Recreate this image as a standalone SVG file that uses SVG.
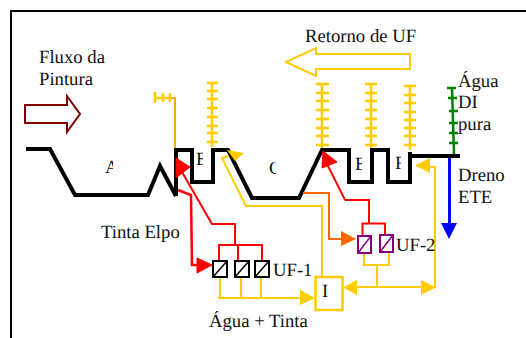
<svg xmlns="http://www.w3.org/2000/svg" width="526" height="338" viewBox="0 0 526 338">
<style>
text{font-family:"Liberation Serif",serif;font-size:18.7px;fill:#111;text-rendering:geometricPrecision}
.y{fill:none;stroke:#ffcc00;stroke-width:2}
.r{fill:none;stroke:#ff0000;stroke-width:2}
.k{fill:none;stroke:#000;stroke-width:4}
.rake{fill:none;stroke:#ffcc00;stroke-width:2.5}
.g{fill:none;stroke:#008000;stroke-width:2.5}
.m1{fill:#fff;stroke:#000;stroke-width:2}
.m2{fill:#fff;stroke:#800080;stroke-width:2}
</style>
<defs>
<clipPath id="ca"><rect x="100" y="155" width="13" height="22"/></clipPath>
<clipPath id="cb"><rect x="194" y="150" width="9" height="18"/></clipPath>
<clipPath id="cc"><rect x="266" y="158" width="10" height="22"/></clipPath>
<clipPath id="ce"><rect x="353" y="155" width="9" height="18"/></clipPath>
<clipPath id="cf"><rect x="394" y="155" width="7" height="18"/></clipPath>
<clipPath id="ci"><rect x="318" y="282" width="12" height="22"/></clipPath>
</defs>
<rect width="526" height="338" fill="#fff"/>
<path id="frame" d="M526 11H11V338" fill="none" stroke="#000" stroke-width="2"/>
<g id="connectors">
<path d="M26 149H50L75 195H148L160 166L176 196M176 196V150H192V182H213V150H228L252 198H299L322 150H349V182H372V150H388V182H410V152M410 156H460" class="k"/>
<path d="M155 98H175V148" fill="none" stroke="#ffa500" stroke-width="2"/>
<path d="M155 98H170M155 92V103M163 93V102M170 93V102" class="rake"/>
<path d="M212 82V147M207 83H218M207 91H218M207 99H218M207 108H218M207 117H218M207 126H218M207 133H218M207 142H218" class="rake"/>
<path d="M322 84V148M316 84H329M316 93H329M316 101H329M316 110H329M316 119H329M316 128H329M316 136H329M316 145H329" class="rake"/>
<path d="M371 84V148M365 84H377M365 93H377M365 101H377M365 110H377M365 119H377M365 128H377M365 136H377M365 145H377" class="rake"/>
<path d="M410 86V150M404 86H416M404 95H416M404 103H416M404 112H416M404 120H416M404 128H416M404 136H416M404 145H416" class="rake"/>
<path d="M452 88L454 154M447 88H456M448 98H457M449 111H458M449 123H458M449 133H458M449 143H458" class="g"/>
<path d="M449.500 158V224" stroke="#0000ff" stroke-width="3" fill="none"/>
<path d="M441 223H457L449 239Z" fill="#0000ff"/>
<path d="M229 156L222 158L246 206H322V278" class="y"/>
<path d="M227 150L244 153L235 161Z" fill="#ffcc00"/>
<path d="M178 190L191 195L192 265H199" fill="none" stroke="#ff0000" stroke-width="2.500"/>
<path d="M197 258V273L212 265Z" fill="#ff0000" stroke="#ff0000"/>
<path d="M182 172L212 224H235V245" class="r"/>
<path d="M176 158V178L190 167Z" fill="#ff0000" stroke="#ff0000"/>
<path d="M219 260V245H262V260M238 245V260" class="r"/>
<path d="M220 278V298M241 278V298M261 278V298" class="y"/>
<path d="M218 298H302" class="y"/>
<path d="M300 290V305L315 298Z" fill="#ffcc00"/>
<path d="M303 193H329V239H342" fill="none" stroke="#ff6600" stroke-width="2"/>
<path d="M341 231V246L356 239Z" fill="#ff6600"/>
<path d="M345 200L326 162" class="r"/>
<path d="M345 200H369V223" class="r"/>
<path d="M362.500 235V223.500H385V235" class="r"/>
<path d="M323 151L322 168L337 162Z" fill="#ff0000" stroke="#ff0000"/>
<path d="M364 253V265H389V253" class="y"/>
<path d="M377 265V287" class="y" stroke-width="1.500"/>
<path d="M350 287H435V167H425" class="y"/>
<path d="M357 280V295L343 287.500Z" fill="#ffcc00"/>
<path d="M421 280V295L436 287.500Z" fill="#ffcc00"/>
<path d="M430 158V173L415 165.500Z" fill="#ffcc00"/>
</g>
<path id="flow-arrow" d="M25 105H67V96L80 114L67 132V123H25Z" fill="#fff" stroke="#800000" stroke-width="2"/>
<path id="return-arrow" d="M410 54H316V48L286 62L316 76V69H410Z" fill="#fff" stroke="#ffcc00" stroke-width="2"/>
<g id="uf1">
<g id="uf1-a"><rect x="213" y="261" width="14" height="16" class="m1"/><path d="M213 277L227 261" stroke="#000" stroke-width="1.500"/></g>
<g id="uf1-b"><rect x="235" y="261" width="14" height="16" class="m1"/><path d="M235 277L249 261" stroke="#000" stroke-width="1.500"/></g>
<g id="uf1-c"><rect x="255" y="261" width="14" height="16" class="m1"/><path d="M255 277L269 261" stroke="#000" stroke-width="1.500"/></g>
<text x="273" y="276">UF-1</text>
</g>
<g id="uf2">
<g id="uf2-a"><rect x="358" y="236" width="13" height="17" class="m2"/><path d="M358 253L371 236" stroke="#800080" stroke-width="1.500"/></g>
<g id="uf2-b"><rect x="380" y="235" width="13" height="17" class="m2"/><path d="M380 252L393 235" stroke="#800080" stroke-width="1.500"/></g>
<text x="396" y="251">UF-2</text>
</g>
<g id="tank-i"><rect x="315.500" y="277" width="27" height="33" fill="#fff" stroke="#ffcc00" stroke-width="2.500"/><text x="322" y="297" clip-path="url(#ci)">I</text></g>
<g id="labels">
<text x="39" y="63">Fluxo da</text>
<text x="39" y="85">Pintura</text>
<text x="305" y="42">Retorno de UF</text>
<text x="458" y="87">Água</text>
<text x="458" y="108">DI</text>
<text x="458" y="130">pura</text>
<text x="458" y="181">Dreno</text>
<text x="458" y="203">ETE</text>
<text x="101" y="238">Tinta Elpo</text>
<text x="209" y="327">Água + Tinta</text>
<text x="105" y="173" clip-path="url(#ca)">A</text>
<text x="196" y="165" clip-path="url(#cb)">E</text>
<text x="269" y="174" clip-path="url(#cc)">C</text>
<text x="355" y="170" clip-path="url(#ce)">E</text>
<text x="395" y="169" clip-path="url(#cf)">F</text>
</g>
</svg>
